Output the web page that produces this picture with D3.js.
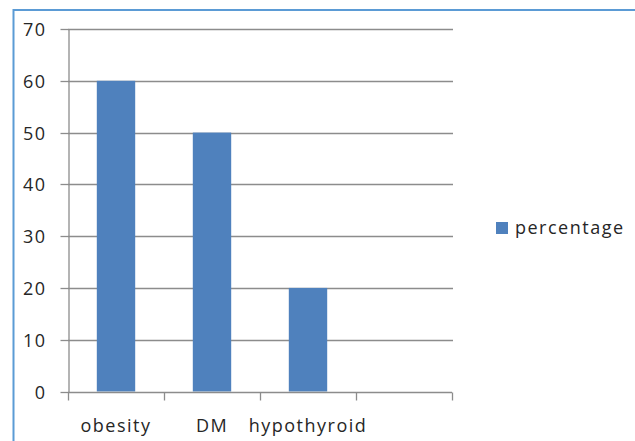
<!DOCTYPE html>
<html>
<head>
<meta charset="utf-8">
<script src="https://cdn.jsdelivr.net/npm/d3@7"></script>
<style>
  html, body { margin: 0; padding: 0; background: #fff; }
  svg { display: block; }
  text { font-family: "Open Sans", sans-serif; fill: #262626; }
</style>
</head>
<body>
<script>
const categories = ["obesity", "DM", "hypothyroid", ""];
const seriesName = "percentage";
const values = [60, 50, 20, null];
const yTicks = [0, 10, 20, 30, 40, 50, 60, 70];

const W = 635, H = 441;
const svg = d3.select("body").append("svg").attr("width", W).attr("height", H);

// chart frame
svg.append("rect").attr("x", 13.5).attr("y", 10).attr("width", W + 20).attr("height", H + 20)
  .attr("fill", "#fff").attr("stroke", "#5b9bd5").attr("stroke-width", 2);

const x = d3.scaleBand().domain(categories).range([68, 452]).padding(0);
const y = d3.scaleLinear().domain([0, 70]).range([391.5, 29]);

// gridlines
svg.append("g").selectAll("line").data(yTicks.filter(d => d > 0)).join("line")
  .attr("x1", 68).attr("x2", 453)
  .attr("y1", d => Math.round(y(d)) + 0.5).attr("y2", d => Math.round(y(d)) + 0.5)
  .attr("stroke", "#8c8c8c").attr("stroke-width", 1.3);

// bars
const bw = x.bandwidth() * 0.4;
svg.append("g").selectAll("rect").data(categories.map((c, i) => ({c, v: values[i]})).filter(d => d.v != null)).join("rect")
  .attr("x", d => x(d.c) + x.bandwidth() / 2 - bw / 2)
  .attr("width", bw)
  .attr("y", d => y(d.v))
  .attr("height", d => y(0) - y(d.v))
  .attr("fill", "#4f81bd");

// y axis
const yAxis = svg.append("g").attr("transform", "translate(68.5,0)")
  .call(d3.axisLeft(y).tickValues(yTicks).tickSize(8).tickPadding(14).tickSizeOuter(0));
yAxis.select(".domain").attr("stroke", "#8c8c8c").attr("stroke-width", 1.3);
yAxis.selectAll(".tick line").attr("stroke", "#8c8c8c").attr("stroke-width", 1.3)
  .attr("transform", function() { return ""; });
yAxis.selectAll(".tick").attr("transform", d => `translate(0,${Math.round(y(d)) + 0.5})`);
yAxis.selectAll(".tick text").style("font-size", "18px").style("letter-spacing", "1.5px")
  .attr("fill", "#262626").attr("x", -22).attr("dy", "0.35em");

// x axis
const xAxis = svg.append("g").attr("transform", `translate(0,${Math.round(y(0)) + 0.5})`);
xAxis.append("line").attr("x1", 68).attr("x2", 452).attr("stroke", "#8c8c8c").attr("stroke-width", 1.3);
const bounds = categories.map(c => x(c)).concat([x.range()[1]]);
xAxis.selectAll("line.tk").data(bounds).join("line").attr("class", "tk")
  .attr("x1", d => Math.round(d) + 0.5).attr("x2", d => Math.round(d) + 0.5)
  .attr("y1", 0).attr("y2", 8).attr("stroke", "#8c8c8c").attr("stroke-width", 1.3);
xAxis.selectAll("text").data(categories).join("text")
  .attr("x", d => x(d) + x.bandwidth() / 2)
  .attr("y", 39)
  .attr("text-anchor", "middle")
  .style("font-size", "18px").style("letter-spacing", "1.5px")
  .text(d => d);

// legend
const lg = svg.append("g");
lg.append("rect").attr("x", 496).attr("y", 222).attr("width", 12).attr("height", 12).attr("fill", "#4f81bd");
lg.append("text").attr("x", 515).attr("y", 228).attr("dy", "0.35em")
  .style("font-size", "18px").style("letter-spacing", "1.5px").text(seriesName);
</script>
</body>
</html>
